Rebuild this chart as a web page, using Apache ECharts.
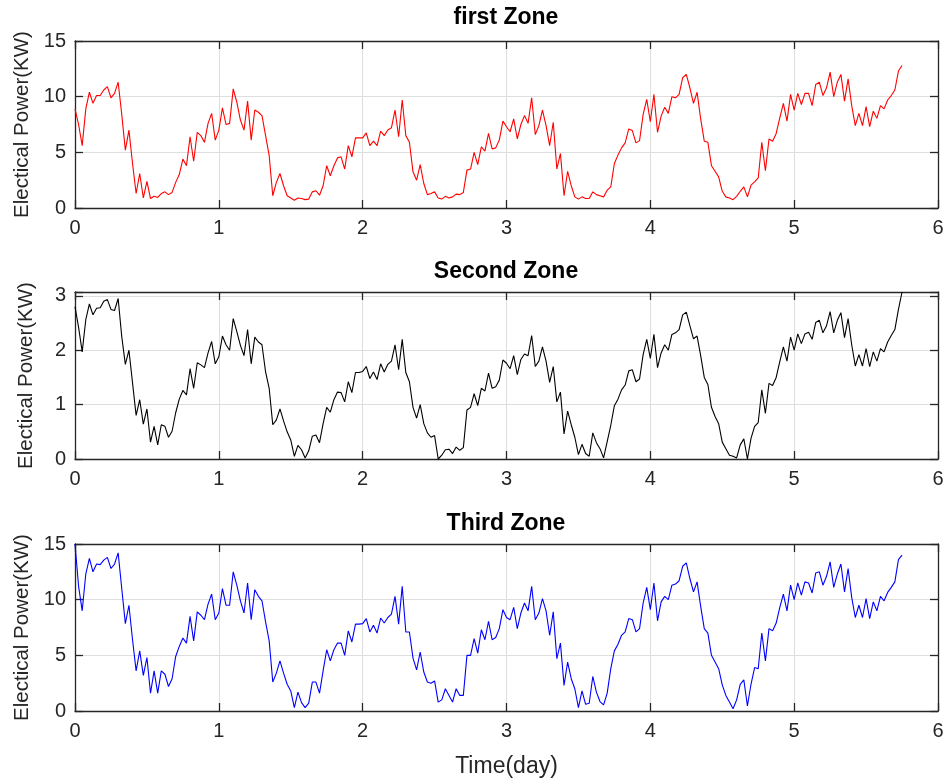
<!DOCTYPE html>
<html>
<head>
<meta charset="utf-8">
<title>Electrical power by zone</title>
<script src="https://cdn.jsdelivr.net/npm/echarts@6.0.0/dist/echarts.min.js"></script>
<style>
  html, body { margin: 0; padding: 0; background: #fff; }
  #main { width: 950px; height: 781px; }
</style>
</head>
<body>
<div id="main"></div>
<script>
// sample step of the recorded series, in days
var stepDays = 0.025;

var zone1Power = [
  8.9, 7.5, 5.6, 8.9, 10.4, 9.4, 10.1, 10.1, 10.6, 10.9,
  9.9, 10.3, 11.3, 8.4, 5.2, 7.0, 4.0, 1.3, 3.1, 0.9,
  2.4, 0.85, 1.05, 0.95, 1.3, 1.45, 1.2, 1.4, 2.3, 3.0,
  4.4, 3.8, 6.4, 4.2, 6.8, 6.5, 5.9, 7.6, 8.5, 6.1,
  7.0, 9.0, 7.5, 7.6, 10.7, 9.5, 7.9, 7.0, 9.6, 6.1,
  8.8, 8.6, 8.3, 6.5, 4.7, 1.1, 2.3, 3.1, 2.0, 1.1,
  0.9, 0.7, 0.9, 0.85, 0.75, 0.8, 1.45, 1.55, 1.15, 2.0,
  3.8, 2.9, 3.8, 4.5, 4.6, 3.5, 5.6, 4.6, 6.3, 6.3,
  6.3, 6.75, 5.6, 6.0, 5.6, 6.9, 6.5, 7.0, 7.2, 8.8,
  6.4, 9.7, 6.5, 5.9, 3.25, 2.5, 3.9, 2.2, 1.2, 1.3,
  1.45, 0.9, 0.8, 1.05, 0.9, 1.0, 1.25, 1.2, 1.4, 3.4,
  3.5, 5.0, 3.9, 5.5, 5.1, 6.7, 5.3, 5.4, 6.1, 7.8,
  7.3, 6.85, 8.0, 6.2, 7.5, 8.3, 7.6, 9.9, 6.6, 7.4,
  8.8, 7.4, 5.6, 7.7, 3.5, 4.9, 1.1, 3.3, 2.0, 1.0,
  0.8, 1.0, 0.85, 0.85, 1.45, 1.2, 1.1, 1.0, 1.6, 1.9,
  4.0, 4.75, 5.4, 5.85, 7.1, 6.95, 5.85, 6.05, 8.4, 9.75,
  7.75, 10.2, 6.8, 8.25, 9.05, 8.5, 10.0, 9.9, 10.2, 11.7,
  12.0, 10.8, 9.4, 10.4, 8.0, 6.0, 5.9, 3.8, 3.3, 2.8,
  1.5, 1.0, 0.9, 0.75, 1.05, 1.5, 1.9, 1.0, 2.05, 2.35,
  2.7, 5.9, 3.35, 6.2, 6.0, 6.7, 8.1, 9.4, 7.8, 10.2,
  8.8, 10.3, 9.3, 10.3, 10.3, 9.2, 11.1, 11.3, 10.1, 10.8,
  12.2, 10.0, 11.3, 12.0, 9.6, 11.6, 9.2, 7.4, 8.5, 7.4,
  9.1, 7.3, 8.7, 8.05, 9.2, 8.9, 9.7, 10.1, 10.6, 12.3,
  12.8
];

var zone2Power = [
  2.8, 2.42, 1.97, 2.56, 2.85, 2.65, 2.77, 2.78, 2.9, 2.93,
  2.75, 2.73, 2.95, 2.25, 1.74, 2.0, 1.4, 0.8, 1.09, 0.64,
  0.92, 0.31, 0.6, 0.26, 0.63, 0.6, 0.4, 0.51, 0.85, 1.1,
  1.26, 1.18, 1.66, 1.3, 1.77, 1.73, 1.68, 1.95, 2.16, 1.75,
  1.88, 2.26, 2.1, 2.0, 2.58, 2.34, 2.09, 1.9, 2.38, 1.75,
  2.24, 2.15, 2.1, 1.6, 1.3, 0.63, 0.72, 0.92, 0.7, 0.5,
  0.35, 0.05, 0.25, 0.17, 0.02, 0.15, 0.42, 0.44, 0.3, 0.65,
  0.95, 0.86, 1.09, 1.23, 1.22, 1.05, 1.42, 1.22, 1.59, 1.59,
  1.61, 1.7, 1.48, 1.6, 1.46, 1.75, 1.6, 1.74, 1.8, 2.1,
  1.64, 2.2, 1.59, 1.42, 0.95, 0.75, 1.0, 0.65, 0.48, 0.4,
  0.43, 0.0, 0.07, 0.17, 0.18, 0.1, 0.22, 0.16, 0.21, 0.9,
  0.95, 1.2, 0.98, 1.3, 1.25, 1.58, 1.3, 1.33, 1.45, 1.82,
  1.76, 1.66, 1.9, 1.55, 1.83, 1.93, 1.9, 2.27, 1.7, 1.8,
  2.06, 1.8, 1.41, 1.7, 1.05, 1.23, 0.46, 0.88, 0.63, 0.4,
  0.08, 0.27, 0.1, 0.05, 0.48, 0.3, 0.19, 0.02, 0.32, 0.62,
  0.98, 1.1, 1.27, 1.36, 1.62, 1.64, 1.42, 1.47, 1.92, 2.2,
  1.85, 2.29, 1.68, 1.95, 2.1, 2.0, 2.29, 2.32, 2.38, 2.65,
  2.7, 2.45, 2.21, 2.26, 1.9, 1.5, 1.37, 0.95, 0.78, 0.65,
  0.31, 0.19, 0.07, 0.05, 0.02, 0.26, 0.37, 0.0, 0.38, 0.6,
  0.67, 1.27, 0.84, 1.39, 1.35, 1.5, 1.79, 2.06, 1.8, 2.24,
  2.0, 2.3, 2.12, 2.3, 2.33, 2.2, 2.51, 2.55, 2.32, 2.45,
  2.71, 2.32, 2.55, 2.69, 2.23, 2.58, 2.1, 1.71, 1.92, 1.71,
  2.03, 1.7, 1.97, 1.8, 2.03, 1.97, 2.15, 2.27, 2.38, 2.75,
  3.07
];

var zone3Power = [
  15.0, 11.2, 9.0, 12.3, 13.7, 12.5, 13.2, 13.15, 13.55, 13.8,
  12.8, 13.2, 14.2, 11.0, 7.85, 9.5, 6.4, 3.6, 5.4, 3.2,
  4.8, 1.6, 3.6, 1.6, 3.6, 3.3, 2.2, 2.9, 4.9, 5.8,
  6.55, 6.1, 8.5, 6.3, 8.9, 8.6, 8.2, 9.6, 10.5, 8.2,
  8.8, 11.0, 9.5, 9.5, 12.5, 11.3, 9.9, 8.8, 11.5, 8.2,
  10.9, 10.3, 9.9, 8.0, 6.3, 2.6, 3.4, 4.5, 3.4, 2.4,
  1.8, 0.3, 1.7, 0.75, 0.3, 0.7, 2.6, 2.6, 1.6, 3.6,
  5.5, 4.5, 5.5, 6.1, 6.1, 5.0, 7.2, 6.2, 7.8, 7.8,
  7.85, 8.3, 7.1, 7.7, 7.0, 8.35, 7.9, 8.4, 8.7, 10.3,
  7.8, 11.2, 7.1, 7.1, 4.75, 3.7, 5.3, 3.5, 2.6, 2.5,
  2.7, 0.8, 1.0, 2.0, 1.4, 0.8, 2.0, 1.4, 1.4, 5.0,
  5.0, 6.5, 5.2, 7.3, 6.4, 8.05, 6.4, 6.6, 7.4, 9.1,
  8.4, 8.2, 9.3, 7.4, 8.8, 9.7, 9.0, 11.2, 8.2, 8.8,
  10.1, 9.0, 6.8, 8.9, 4.7, 6.1, 2.3, 4.4, 2.9, 2.0,
  0.3, 1.8, 0.6, 0.7, 3.1, 1.7, 0.85, 0.55, 1.6, 3.8,
  5.4, 6.0, 6.8, 7.1, 8.3, 8.2, 7.1, 7.4, 9.7, 11.1,
  9.1, 11.5, 8.1, 9.8, 10.3, 10.0, 11.3, 11.4, 11.7, 13.0,
  13.3, 11.9, 10.7, 11.6, 9.4, 7.4, 7.0, 5.0, 4.4, 3.8,
  2.35, 1.4, 0.8, 0.2, 1.0, 2.4, 2.8, 0.45, 2.4, 3.9,
  3.8, 7.0, 4.5, 7.4, 7.2, 7.9, 9.3, 10.5, 9.0, 11.3,
  10.0, 11.5, 10.4, 11.6, 11.5, 10.6, 12.4, 12.5, 11.3, 12.1,
  13.4, 11.1, 12.3, 13.2, 10.7, 12.8, 10.2, 8.4, 9.5, 8.4,
  10.1, 8.3, 9.8, 9.0, 10.3, 9.9, 10.65, 11.1, 11.6, 13.6,
  14.0
];

var timeDays = zone1Power.map(function (v, i) { return +(i * stepDays).toFixed(3); });

var zoneTitles = ['first Zone', 'Second Zone', 'Third Zone'];
var zoneData = [zone1Power, zone2Power, zone3Power];
var zoneColors = ['#ff0000', '#000000', '#0000ff'];
var yMax = [15, 3.07, 15];
var yStep = [5, 1, 5];
var xTicks = [0, 6, 1];   // min, max, interval

var gridTops = [41, 292, 544];
var titleY = [18, 272, 524];
var gridH = 167;
var font = 'Liberation Sans, Arial, Helvetica, sans-serif';
var ink = '#262626';

var myChart = echarts.init(document.getElementById('main'), null, { renderer: 'canvas' });

var grids = [], xAxes = [], yAxes = [], series = [], titles = [];

for (var i = 0; i < 3; i++) {
  grids.push({ left: 75, right: 12, top: gridTops[i], height: gridH, outerBoundsMode: 'none' });

  var lineStyle = { color: ink, width: 1.3 };
  var tick = { show: true, inside: true, length: 8, lineStyle: { color: ink, width: 1.3 } };

  // bottom x axis (labels) + top x axis (box edge)
  xAxes.push({
    gridIndex: i, type: 'value', position: 'bottom',
    min: xTicks[0], max: xTicks[1], interval: xTicks[2],
    axisLine: { show: true, onZero: false, lineStyle: lineStyle },
    axisTick: tick,
    axisLabel: { color: ink, fontSize: 20, fontFamily: font, margin: 10 },
    splitLine: { show: true, lineStyle: { color: '#dedede', width: 1 } },
    name: i === 2 ? 'Time(day)' : '',
    nameLocation: 'middle', nameGap: 44,
    nameTextStyle: { color: ink, fontSize: 23, fontFamily: font }
  });
  xAxes.push({
    gridIndex: i, type: 'value', position: 'top',
    min: xTicks[0], max: xTicks[1], interval: xTicks[2],
    axisLine: { show: true, onZero: false, lineStyle: lineStyle },
    axisTick: tick,
    axisLabel: { show: false },
    splitLine: { show: false }
  });

  // left y axis (labels) + right y axis (box edge)
  yAxes.push({
    gridIndex: i, type: 'value', position: 'left',
    min: 0, max: yMax[i], interval: yStep[i],
    axisLine: { show: true, onZero: false, lineStyle: lineStyle },
    axisTick: tick,
    axisLabel: {
      color: ink, fontSize: 20, fontFamily: font, margin: 9,
      formatter: function (v) { return Math.abs(v - Math.round(v)) < 1e-9 ? String(Math.round(v)) : ''; }
    },
    splitLine: { show: true, lineStyle: { color: '#dedede', width: 1 } },
    name: 'Electical Power(KW)',
    nameLocation: 'middle', nameGap: 38,
    nameTextStyle: { color: ink, fontSize: 20.5, fontFamily: font }
  });
  yAxes.push({
    gridIndex: i, type: 'value', position: 'right',
    min: 0, max: yMax[i], interval: yStep[i],
    axisLine: { show: true, onZero: false, lineStyle: lineStyle },
    axisTick: tick,
    axisLabel: { show: false },
    splitLine: { show: false }
  });

  var values = zoneData[i];
  series.push({
    name: zoneTitles[i],
    type: 'line',
    xAxisIndex: 2 * i,
    yAxisIndex: 2 * i,
    showSymbol: false,
    clip: true,
    lineStyle: { color: zoneColors[i], width: 1.1 },
    itemStyle: { color: zoneColors[i] },
    data: values.map(function (v, k) { return [timeDays[k], v]; })
  });

  titles.push({
    type: 'text',
    x: 506, y: titleY[i],
    style: {
      text: zoneTitles[i],
      font: 'bold 23px ' + font,
      fill: '#000',
      textAlign: 'center',
      textVerticalAlign: 'middle'
    }
  });
}

var option = {
  animation: false,
  backgroundColor: '#ffffff',
  grid: grids,
  xAxis: xAxes,
  yAxis: yAxes,
  series: series,
  graphic: titles
};

myChart.setOption(option);
</script>
</body>
</html>
